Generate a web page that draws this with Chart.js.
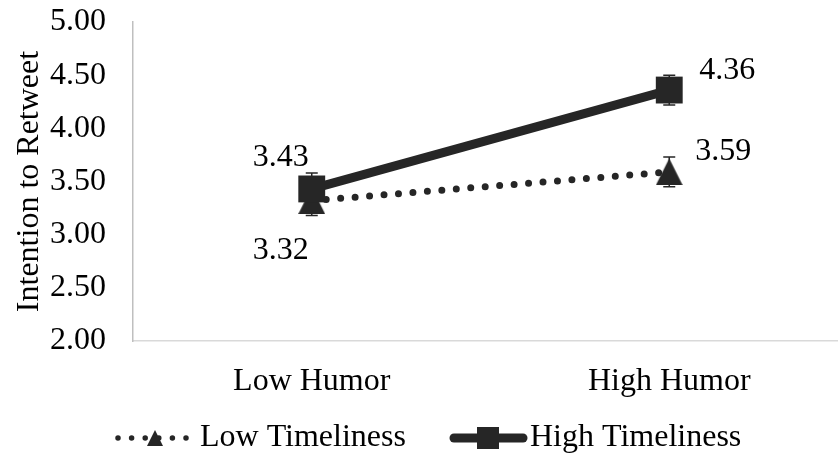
<!DOCTYPE html>
<html>
<head>
<meta charset="utf-8">
<script src="https://cdn.jsdelivr.net/npm/chart.js@4.4.1/dist/chart.umd.min.js"></script>
<style>
  html, body { margin: 0; padding: 0; background: #fff; overflow: hidden; }
  #wrap { width: 850px; height: 460px; position: relative; }
</style>
</head>
<body>
<div id="wrap"><canvas id="chart"></canvas></div>
<script>
const categories = ['Low Humor', 'High Humor'];
const lowTimeliness = [3.32, 3.59];
const highTimeliness = [3.43, 4.36];
const lowTimelinessErr = [0.14, 0.14];
const highTimelinessErr = [0.15, 0.14];
const seriesNames = ['Low Timeliness', 'High Timeliness'];
const yAxisTitle = 'Intention to Retweet';

const INK = '#262626';
const FONT = "'Liberation Serif', 'Times New Roman', serif";
const FONT_SIZE = 32;

// label offsets from each point, [dataset][index]
const LABEL_OFFSETS = [
    [{ dx: -31, dy: 50 }, { dx: 54, dy: -20 }],
    [{ dx: -31, dy: -31 }, { dx: 58, dy: -19 }]
];

function makeTriangle(w, h) {
    const c = document.createElement('canvas');
    c.width = w;
    c.height = h;
    const g = c.getContext('2d');
    g.fillStyle = INK;
    g.beginPath();
    g.moveTo(w / 2, 0);
    g.lineTo(w, h);
    g.lineTo(0, h);
    g.closePath();
    g.fill();
    return c;
}

const triangleMarker = makeTriangle(27, 27);

const errorBarPlugin = {
    id: 'errorBars',
    beforeDatasetsDraw(chart) {
        const { ctx, scales } = chart;
        const errs = [lowTimelinessErr, highTimelinessErr];
        ctx.save();
        ctx.strokeStyle = INK;
        ctx.lineWidth = 1.5;
        chart.data.datasets.forEach((ds, i) => {
            const meta = chart.getDatasetMeta(i);
            meta.data.forEach((pt, j) => {
                const v = ds.data[j];
                const top = scales.y.getPixelForValue(v + errs[i][j]);
                const bot = scales.y.getPixelForValue(v - errs[i][j]);
                ctx.beginPath();
                ctx.moveTo(pt.x, top);
                ctx.lineTo(pt.x, bot);
                ctx.moveTo(pt.x - 6, top);
                ctx.lineTo(pt.x + 6, top);
                ctx.moveTo(pt.x - 6, bot);
                ctx.lineTo(pt.x + 6, bot);
                ctx.stroke();
            });
        });
        ctx.restore();
    }
};

const valueLabelPlugin = {
    id: 'valueLabels',
    afterDatasetsDraw(chart) {
        const { ctx } = chart;
        ctx.save();
        ctx.fillStyle = '#000';
        ctx.font = `${FONT_SIZE}px ${FONT}`;
        ctx.textAlign = 'center';
        ctx.textBaseline = 'middle';
        chart.data.datasets.forEach((ds, i) => {
            chart.getDatasetMeta(i).data.forEach((pt, j) => {
                const off = LABEL_OFFSETS[i][j];
                ctx.fillText(ds.data[j].toFixed(2), pt.x + off.dx, pt.y + off.dy);
            });
        });
        ctx.restore();
    }
};

const legendPlugin = {
    id: 'legendRow',
    afterDraw(chart) {
        const { ctx } = chart;
        const y = 438;
        ctx.save();
        // Low Timeliness sample
        ctx.strokeStyle = INK;
        ctx.lineWidth = 5.5;
        ctx.lineCap = 'round';
        ctx.setLineDash([0, 13.6]);
        ctx.beginPath();
        ctx.moveTo(118, y);
        ctx.lineTo(187, y);
        ctx.stroke();
        ctx.setLineDash([]);
        ctx.drawImage(makeTriangle(16, 16), 147, y - 8);
        // High Timeliness sample
        ctx.lineWidth = 9;
        ctx.beginPath();
        ctx.moveTo(454, y);
        ctx.lineTo(523, y);
        ctx.stroke();
        ctx.fillStyle = INK;
        ctx.fillRect(477, y - 11, 22, 22);
        ctx.fillStyle = '#000';
        ctx.font = `${FONT_SIZE}px ${FONT}`;
        ctx.textAlign = 'left';
        ctx.textBaseline = 'middle';
        ctx.fillText(seriesNames[0], 200, y);
        ctx.fillText(seriesNames[1], 530, y);
        ctx.restore();
    }
};

new Chart(document.getElementById('chart'), {
    type: 'line',
    data: {
        labels: categories,
        datasets: [
            {
                label: seriesNames[0],
                data: lowTimeliness,
                borderColor: INK,
                backgroundColor: INK,
                borderWidth: 7,
                borderDash: [0, 14.5],
                borderCapStyle: 'round',
                pointStyle: triangleMarker,
                pointRadius: 14,
                order: 1
            },
            {
                label: seriesNames[1],
                data: highTimeliness,
                borderColor: INK,
                backgroundColor: INK,
                borderWidth: 9,
                pointStyle: 'rect',
                pointRadius: 19,
                pointBorderWidth: 0,
                order: 0
            }
        ]
    },
    options: {
        responsive: true,
        maintainAspectRatio: false,
        animation: false,
        layout: { autoPadding: false, padding: { top: 0, right: 2, left: 10, bottom: 59 } },
        plugins: {
            legend: { display: false },
            tooltip: { enabled: false }
        },
        scales: {
            x: {
                offset: true,
                grid: { display: false, drawTicks: false },
                border: { display: true, color: '#d9d9d9', width: 1.5 },
                ticks: { color: '#000', padding: 21, font: { family: FONT, size: FONT_SIZE } },
                afterFit: (s) => { s.height = 60; }
            },
            y: {
                min: 2,
                max: 5,
                grid: { display: false, drawTicks: false },
                border: { display: true, color: '#bfbfbf', width: 1.5 },
                ticks: {
                    stepSize: 0.5,
                    color: '#000',
                    padding: 27,
                    font: { family: FONT, size: FONT_SIZE },
                    callback: (v) => Number(v).toFixed(2)
                },
                title: {
                    display: true,
                    text: yAxisTitle,
                    color: '#000',
                    padding: 0,
                    font: { family: FONT, size: FONT_SIZE }
                },
                afterFit: (s) => {
                    s.width = 123;
                    s.paddingTop = 22;
                }
            }
        }
    },
    plugins: [errorBarPlugin, valueLabelPlugin, legendPlugin]
});
</script>
</body>
</html>
